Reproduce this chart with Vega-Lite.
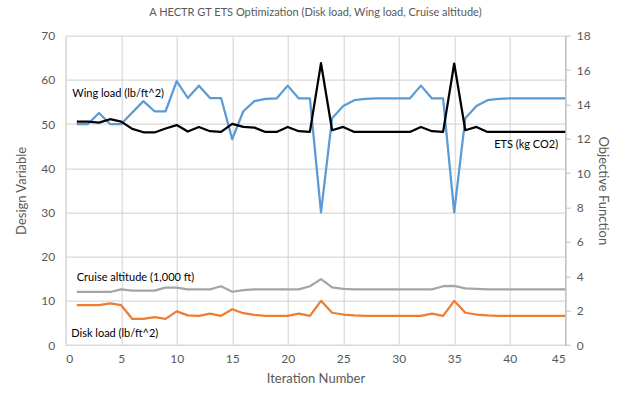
{
  "$schema": "https://vega.github.io/schema/vega-lite/v6.json",
  "width": 499.5,
  "height": 309.3,
  "autosize": {"type": "none"},
  "padding": {"left": 65.7, "top": 35.7, "right": 51.8, "bottom": 53},
  "title": {"text": "A HECTR GT ETS Optimization (Disk load, Wing load, Cruise altitude)", "font": "Lato", "fontSize": 11, "fontWeight": "normal", "color": "#595959", "anchor": "middle", "offset": 12},
  "config": {
    "view": {"stroke": null},
    "axis": {"labelFont": "Lato", "titleFont": "Lato", "labelFontSize": 12, "titleFontSize": 13, "labelColor": "#595959", "titleColor": "#595959", "titleFontWeight": "normal", "gridColor": "#d9d9d9", "gridWidth": 1.2, "domainColor": "#d9d9d9", "domainWidth": 1.2}
  },
  "datasets": {
    "series": [
      {"iter":1,"series":"Wing","value":50},{"iter":2,"series":"Wing","value":50},{"iter":3,"series":"Wing","value":52.5},{"iter":4,"series":"Wing","value":50},{"iter":5,"series":"Wing","value":50},{"iter":6,"series":"Wing","value":52.6},{"iter":7,"series":"Wing","value":55.2},{"iter":8,"series":"Wing","value":52.9},{"iter":9,"series":"Wing","value":52.9},{"iter":10,"series":"Wing","value":59.7},{"iter":11,"series":"Wing","value":55.9},{"iter":12,"series":"Wing","value":58.7},{"iter":13,"series":"Wing","value":55.9},{"iter":14,"series":"Wing","value":55.9},{"iter":15,"series":"Wing","value":46.6},{"iter":16,"series":"Wing","value":52.9},{"iter":17,"series":"Wing","value":55.2},{"iter":18,"series":"Wing","value":55.7},{"iter":19,"series":"Wing","value":55.8},{"iter":20,"series":"Wing","value":58.7},{"iter":21,"series":"Wing","value":55.8},{"iter":22,"series":"Wing","value":55.8},{"iter":23,"series":"Wing","value":30},{"iter":24,"series":"Wing","value":51.3},{"iter":25,"series":"Wing","value":54.1},{"iter":26,"series":"Wing","value":55.4},{"iter":27,"series":"Wing","value":55.7},{"iter":28,"series":"Wing","value":55.8},{"iter":29,"series":"Wing","value":55.8},{"iter":30,"series":"Wing","value":55.8},{"iter":31,"series":"Wing","value":55.8},{"iter":32,"series":"Wing","value":58.7},{"iter":33,"series":"Wing","value":55.8},{"iter":34,"series":"Wing","value":55.8},{"iter":35,"series":"Wing","value":30},{"iter":36,"series":"Wing","value":51.3},{"iter":37,"series":"Wing","value":54.1},{"iter":38,"series":"Wing","value":55.4},{"iter":39,"series":"Wing","value":55.7},{"iter":40,"series":"Wing","value":55.8},{"iter":41,"series":"Wing","value":55.8},{"iter":42,"series":"Wing","value":55.8},{"iter":43,"series":"Wing","value":55.8},{"iter":44,"series":"Wing","value":55.8},{"iter":45,"series":"Wing","value":55.8},
      {"iter":1,"series":"Cruise","value":12},{"iter":2,"series":"Cruise","value":12},{"iter":3,"series":"Cruise","value":12},{"iter":4,"series":"Cruise","value":12},{"iter":5,"series":"Cruise","value":12.6},{"iter":6,"series":"Cruise","value":12.3},{"iter":7,"series":"Cruise","value":12.3},{"iter":8,"series":"Cruise","value":12.3},{"iter":9,"series":"Cruise","value":13},{"iter":10,"series":"Cruise","value":13},{"iter":11,"series":"Cruise","value":12.6},{"iter":12,"series":"Cruise","value":12.6},{"iter":13,"series":"Cruise","value":12.6},{"iter":14,"series":"Cruise","value":13.3},{"iter":15,"series":"Cruise","value":12.05},{"iter":16,"series":"Cruise","value":12.4},{"iter":17,"series":"Cruise","value":12.6},{"iter":18,"series":"Cruise","value":12.6},{"iter":19,"series":"Cruise","value":12.6},{"iter":20,"series":"Cruise","value":12.6},{"iter":21,"series":"Cruise","value":12.6},{"iter":22,"series":"Cruise","value":13.3},{"iter":23,"series":"Cruise","value":14.9},{"iter":24,"series":"Cruise","value":13.05},{"iter":25,"series":"Cruise","value":12.7},{"iter":26,"series":"Cruise","value":12.6},{"iter":27,"series":"Cruise","value":12.6},{"iter":28,"series":"Cruise","value":12.6},{"iter":29,"series":"Cruise","value":12.6},{"iter":30,"series":"Cruise","value":12.6},{"iter":31,"series":"Cruise","value":12.6},{"iter":32,"series":"Cruise","value":12.6},{"iter":33,"series":"Cruise","value":12.6},{"iter":34,"series":"Cruise","value":13.3},{"iter":35,"series":"Cruise","value":13.4},{"iter":36,"series":"Cruise","value":12.8},{"iter":37,"series":"Cruise","value":12.7},{"iter":38,"series":"Cruise","value":12.6},{"iter":39,"series":"Cruise","value":12.6},{"iter":40,"series":"Cruise","value":12.6},{"iter":41,"series":"Cruise","value":12.6},{"iter":42,"series":"Cruise","value":12.6},{"iter":43,"series":"Cruise","value":12.6},{"iter":44,"series":"Cruise","value":12.6},{"iter":45,"series":"Cruise","value":12.6},
      {"iter":1,"series":"Disk","value":9},{"iter":2,"series":"Disk","value":9},{"iter":3,"series":"Disk","value":9},{"iter":4,"series":"Disk","value":9.4},{"iter":5,"series":"Disk","value":9},{"iter":6,"series":"Disk","value":5.9},{"iter":7,"series":"Disk","value":5.9},{"iter":8,"series":"Disk","value":6.3},{"iter":9,"series":"Disk","value":5.9},{"iter":10,"series":"Disk","value":7.6},{"iter":11,"series":"Disk","value":6.7},{"iter":12,"series":"Disk","value":6.6},{"iter":13,"series":"Disk","value":7.1},{"iter":14,"series":"Disk","value":6.6},{"iter":15,"series":"Disk","value":8.1},{"iter":16,"series":"Disk","value":7.2},{"iter":17,"series":"Disk","value":6.8},{"iter":18,"series":"Disk","value":6.6},{"iter":19,"series":"Disk","value":6.6},{"iter":20,"series":"Disk","value":6.6},{"iter":21,"series":"Disk","value":7.1},{"iter":22,"series":"Disk","value":6.6},{"iter":23,"series":"Disk","value":10},{"iter":24,"series":"Disk","value":7.3},{"iter":25,"series":"Disk","value":6.9},{"iter":26,"series":"Disk","value":6.7},{"iter":27,"series":"Disk","value":6.6},{"iter":28,"series":"Disk","value":6.6},{"iter":29,"series":"Disk","value":6.6},{"iter":30,"series":"Disk","value":6.6},{"iter":31,"series":"Disk","value":6.6},{"iter":32,"series":"Disk","value":6.6},{"iter":33,"series":"Disk","value":7.1},{"iter":34,"series":"Disk","value":6.6},{"iter":35,"series":"Disk","value":10},{"iter":36,"series":"Disk","value":7.3},{"iter":37,"series":"Disk","value":6.9},{"iter":38,"series":"Disk","value":6.7},{"iter":39,"series":"Disk","value":6.6},{"iter":40,"series":"Disk","value":6.6},{"iter":41,"series":"Disk","value":6.6},{"iter":42,"series":"Disk","value":6.6},{"iter":43,"series":"Disk","value":6.6},{"iter":44,"series":"Disk","value":6.6},{"iter":45,"series":"Disk","value":6.6},
      {"iter":1,"series":"ETS","value":13.0},{"iter":2,"series":"ETS","value":13.0},{"iter":3,"series":"ETS","value":12.94},{"iter":4,"series":"ETS","value":13.14},{"iter":5,"series":"ETS","value":13.0},{"iter":6,"series":"ETS","value":12.58},{"iter":7,"series":"ETS","value":12.38},{"iter":8,"series":"ETS","value":12.37},{"iter":9,"series":"ETS","value":12.6},{"iter":10,"series":"ETS","value":12.8},{"iter":11,"series":"ETS","value":12.42},{"iter":12,"series":"ETS","value":12.69},{"iter":13,"series":"ETS","value":12.44},{"iter":14,"series":"ETS","value":12.4},{"iter":15,"series":"ETS","value":12.87},{"iter":16,"series":"ETS","value":12.69},{"iter":17,"series":"ETS","value":12.65},{"iter":18,"series":"ETS","value":12.4},{"iter":19,"series":"ETS","value":12.4},{"iter":20,"series":"ETS","value":12.69},{"iter":21,"series":"ETS","value":12.44},{"iter":22,"series":"ETS","value":12.4},{"iter":23,"series":"ETS","value":16.4},{"iter":24,"series":"ETS","value":12.5},{"iter":25,"series":"ETS","value":12.69},{"iter":26,"series":"ETS","value":12.4},{"iter":27,"series":"ETS","value":12.4},{"iter":28,"series":"ETS","value":12.4},{"iter":29,"series":"ETS","value":12.4},{"iter":30,"series":"ETS","value":12.4},{"iter":31,"series":"ETS","value":12.4},{"iter":32,"series":"ETS","value":12.69},{"iter":33,"series":"ETS","value":12.44},{"iter":34,"series":"ETS","value":12.4},{"iter":35,"series":"ETS","value":16.38},{"iter":36,"series":"ETS","value":12.5},{"iter":37,"series":"ETS","value":12.69},{"iter":38,"series":"ETS","value":12.4},{"iter":39,"series":"ETS","value":12.4},{"iter":40,"series":"ETS","value":12.4},{"iter":41,"series":"ETS","value":12.4},{"iter":42,"series":"ETS","value":12.4},{"iter":43,"series":"ETS","value":12.4},{"iter":44,"series":"ETS","value":12.4},{"iter":45,"series":"ETS","value":12.4}
    ],
    "labels": [
      {"label": "Wing load (lb/ft^2)", "iter": 0.6, "value": 56.9},
      {"label": "ETS (kg CO2)", "iter": 38.6, "value": 45.2},
      {"label": "Cruise altitude (1,000 ft)", "iter": 1.0, "value": 15.1},
      {"label": "Disk load (lb/ft^2)", "iter": 0.5, "value": 2.5}
    ]
  },
  "layer": [
    {
      "layer": [
        {
          "data": {"name": "series"},
          "transform": [{"filter": "datum.series !== 'ETS'"}],
          "mark": {"type": "line", "strokeWidth": 2.25, "strokeJoin": "round"},
          "encoding": {
            "x": {"field": "iter", "type": "quantitative", "scale": {"domain": [0, 45], "nice": false},
                  "axis": {"title": "Iteration Number", "values": [0,5,10,15,20,25,30,35,40,45], "grid": true, "ticks": false, "labelPadding": 8, "titlePadding": 8}},
            "y": {"field": "value", "type": "quantitative", "scale": {"domain": [0, 70], "nice": false},
                  "axis": {"title": "Design Variable", "values": [0,10,20,30,40,50,60,70], "grid": true, "ticks": false, "labelPadding": 11, "titlePadding": 12}},
            "color": {"field": "series", "type": "nominal", "scale": {"domain": ["Wing", "Cruise", "Disk"], "range": ["#5B9BD5", "#A5A5A5", "#ED7D31"]}, "legend": null}
          }
        },
        {
          "data": {"name": "labels"},
          "mark": {"type": "text", "align": "left", "baseline": "middle", "font": "Lato", "fontSize": 11, "color": "#000000"},
          "encoding": {
            "x": {"field": "iter", "type": "quantitative"},
            "y": {"field": "value", "type": "quantitative"},
            "text": {"field": "label"}
          }
        }
      ]
    },
    {
      "data": {"name": "series"},
      "transform": [{"filter": "datum.series === 'ETS'"}],
      "mark": {"type": "line", "strokeWidth": 2.25, "color": "#000000", "strokeJoin": "round"},
      "encoding": {
        "x": {"field": "iter", "type": "quantitative"},
        "y": {"field": "value", "type": "quantitative", "scale": {"domain": [0, 18], "nice": false},
              "axis": {"orient": "right", "title": "Objective Function", "values": [0,2,4,6,8,10,12,14,16,18], "grid": false, "tickSize": 5, "tickColor": "#bfbfbf", "domainColor": "#bfbfbf", "labelPadding": 6, "titlePadding": 5}}
      }
    }
  ],
  "resolve": {"scale": {"y": "independent"}}
}
